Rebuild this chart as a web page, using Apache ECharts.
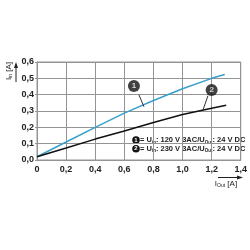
<!DOCTYPE html>
<html><head><meta charset="utf-8">
<script src="https://cdn.jsdelivr.net/npm/echarts@6/dist/echarts.min.js"></script>
<style>html,body{margin:0;padding:0;background:#fff}#c{width:250px;height:250px}</style>
</head><body><div id="c"></div>
<script>
const blueX = [0, 0.2, 0.4, 0.6, 0.8, 1.0, 1.2, 1.29];
const blueY = [0.02, 0.11, 0.2, 0.287, 0.364, 0.436, 0.5, 0.524];
const blackX = [0, 0.2, 0.4, 0.6, 0.8, 1.0, 1.2, 1.3];
const blackY = [0.02, 0.073, 0.128, 0.177, 0.23, 0.278, 0.317, 0.335];
const markerLabels = ['1', '2'];
const markerPos = [[0.666, 0.453], [1.2, 0.428]];
const leaderFrom = [[0.7, 0.4], [1.175, 0.394]];
const leaderTo = [[0.735, 0.326], [1.14, 0.305]];
const legendLines = [['1', '120 V 3AC'], ['2', '230 V 3AC']];

const FONT = '"Liberation Sans", Arial, sans-serif';
const BLUE = '#3a9fca';
const GRID = '#949494';
const TXT = '#222';

const chart = echarts.init(document.getElementById('c'));
const zip = (xs, ys) => xs.map((x, i) => [x, ys[i]]);
const fmt = v => v === 0 ? '0' : v.toFixed(1).replace('.', ',');

const legendGraphics = [];
legendLines.forEach((l, i) => {
  const y = 140 + i * 8.7;
  legendGraphics.push({type: 'circle', shape: {cx: 136, cy: y, r: 3.8}, style: {fill: '#111'}});
  legendGraphics.push({type: 'text', style: {text: l[0], x: 136, y: y, fill: '#fff', font: 'bold 6px ' + FONT, align: 'center', verticalAlign: 'middle'}});
  legendGraphics.push({type: 'text', style: {
    x: 140, y: y, verticalAlign: 'middle',
    text: '{t|= U}{s|in}{t|: ' + l[1] + '/U}{s|Out}{t|: 24 V DC}',
    rich: {t: {font: 'bold 7.5px ' + FONT, fill: TXT}, s: {font: 'bold 4.5px ' + FONT, fill: TXT, padding: [5, 0, 0, 0]}}
  }});
});

chart.setOption({
  animation: false,
  grid: {left: 37, right: 9, top: 62, bottom: 90, show: true, borderColor: GRID, borderWidth: 1},
  xAxis: {
    type: 'value', min: 0, max: 1.4, interval: 0.2,
    axisLine: {show: true, lineStyle: {color: GRID, width: 1}},
    axisTick: {show: false},
    splitLine: {show: true, lineStyle: {color: GRID, width: 1}},
    axisLabel: {formatter: fmt, color: TXT, fontFamily: FONT, fontWeight: 'bold', fontSize: 9, margin: 5}
  },
  yAxis: {
    type: 'value', min: 0, max: 0.6, interval: 0.1,
    axisLine: {show: true, lineStyle: {color: GRID, width: 1}},
    axisTick: {show: true, length: 2, lineStyle: {color: GRID}},
    splitLine: {show: true, lineStyle: {color: GRID, width: 1}},
    axisLabel: {formatter: v => v.toFixed(1).replace('.', ','), color: TXT, fontFamily: FONT, fontWeight: 'bold', fontSize: 9, margin: 3}
  },
  series: [
    {type: 'line', data: zip(blueX, blueY), showSymbol: false, lineStyle: {color: BLUE, width: 1.5}, z: 3},
    {type: 'line', data: zip(blackX, blackY), showSymbol: false, lineStyle: {color: '#111', width: 1.5}, z: 3},
    {type: 'custom', z: 5, data: leaderFrom.map((f, i) => [f[0], f[1], leaderTo[i][0], leaderTo[i][1]]),
      renderItem: (params, api) => {
        const a = api.coord([api.value(0), api.value(1)]);
        const b = api.coord([api.value(2), api.value(3)]);
        return {type: 'line', shape: {x1: a[0], y1: a[1], x2: b[0], y2: b[1]}, style: {stroke: '#333', lineWidth: 1}};
      }},
    {type: 'scatter', data: markerPos, symbolSize: 12, itemStyle: {color: '#111'}, z: 6,
      label: {show: true, position: 'inside', formatter: p => markerLabels[p.dataIndex], color: '#fff', fontFamily: FONT, fontWeight: 'bold', fontSize: 8}}
  ],
  graphic: [
    {type: 'text', rotation: Math.PI / 2, x: 9, y: 71, style: {
      text: '{t|I}{s|in}{t| [A]}', align: 'center', verticalAlign: 'middle',
      rich: {t: {font: '8px ' + FONT, fill: TXT}, s: {font: '5px ' + FONT, fill: TXT, padding: [4, 0, 0, 0]}}}},
    {type: 'line', shape: {x1: 16, y1: 82, x2: 16, y2: 66}, style: {stroke: '#222', lineWidth: 1}},
    {type: 'polygon', shape: {points: [[16, 62], [14, 68], [18, 68]]}, style: {fill: '#222'}},
    {type: 'line', shape: {x1: 218, y1: 177.5, x2: 238, y2: 177.5}, style: {stroke: '#222', lineWidth: 1}},
    {type: 'polygon', shape: {points: [[243, 177.5], [237, 175.5], [237, 179.5]]}, style: {fill: '#222'}},
    {type: 'text', x: 226, y: 184, style: {
      text: '{t|I}{s|Out}{t| [A]}', align: 'center', verticalAlign: 'middle',
      rich: {t: {font: '8px ' + FONT, fill: TXT}, s: {font: '5px ' + FONT, fill: TXT, padding: [4, 0, 0, 0]}}}}
  ].concat(legendGraphics)
});
</script></body></html>
